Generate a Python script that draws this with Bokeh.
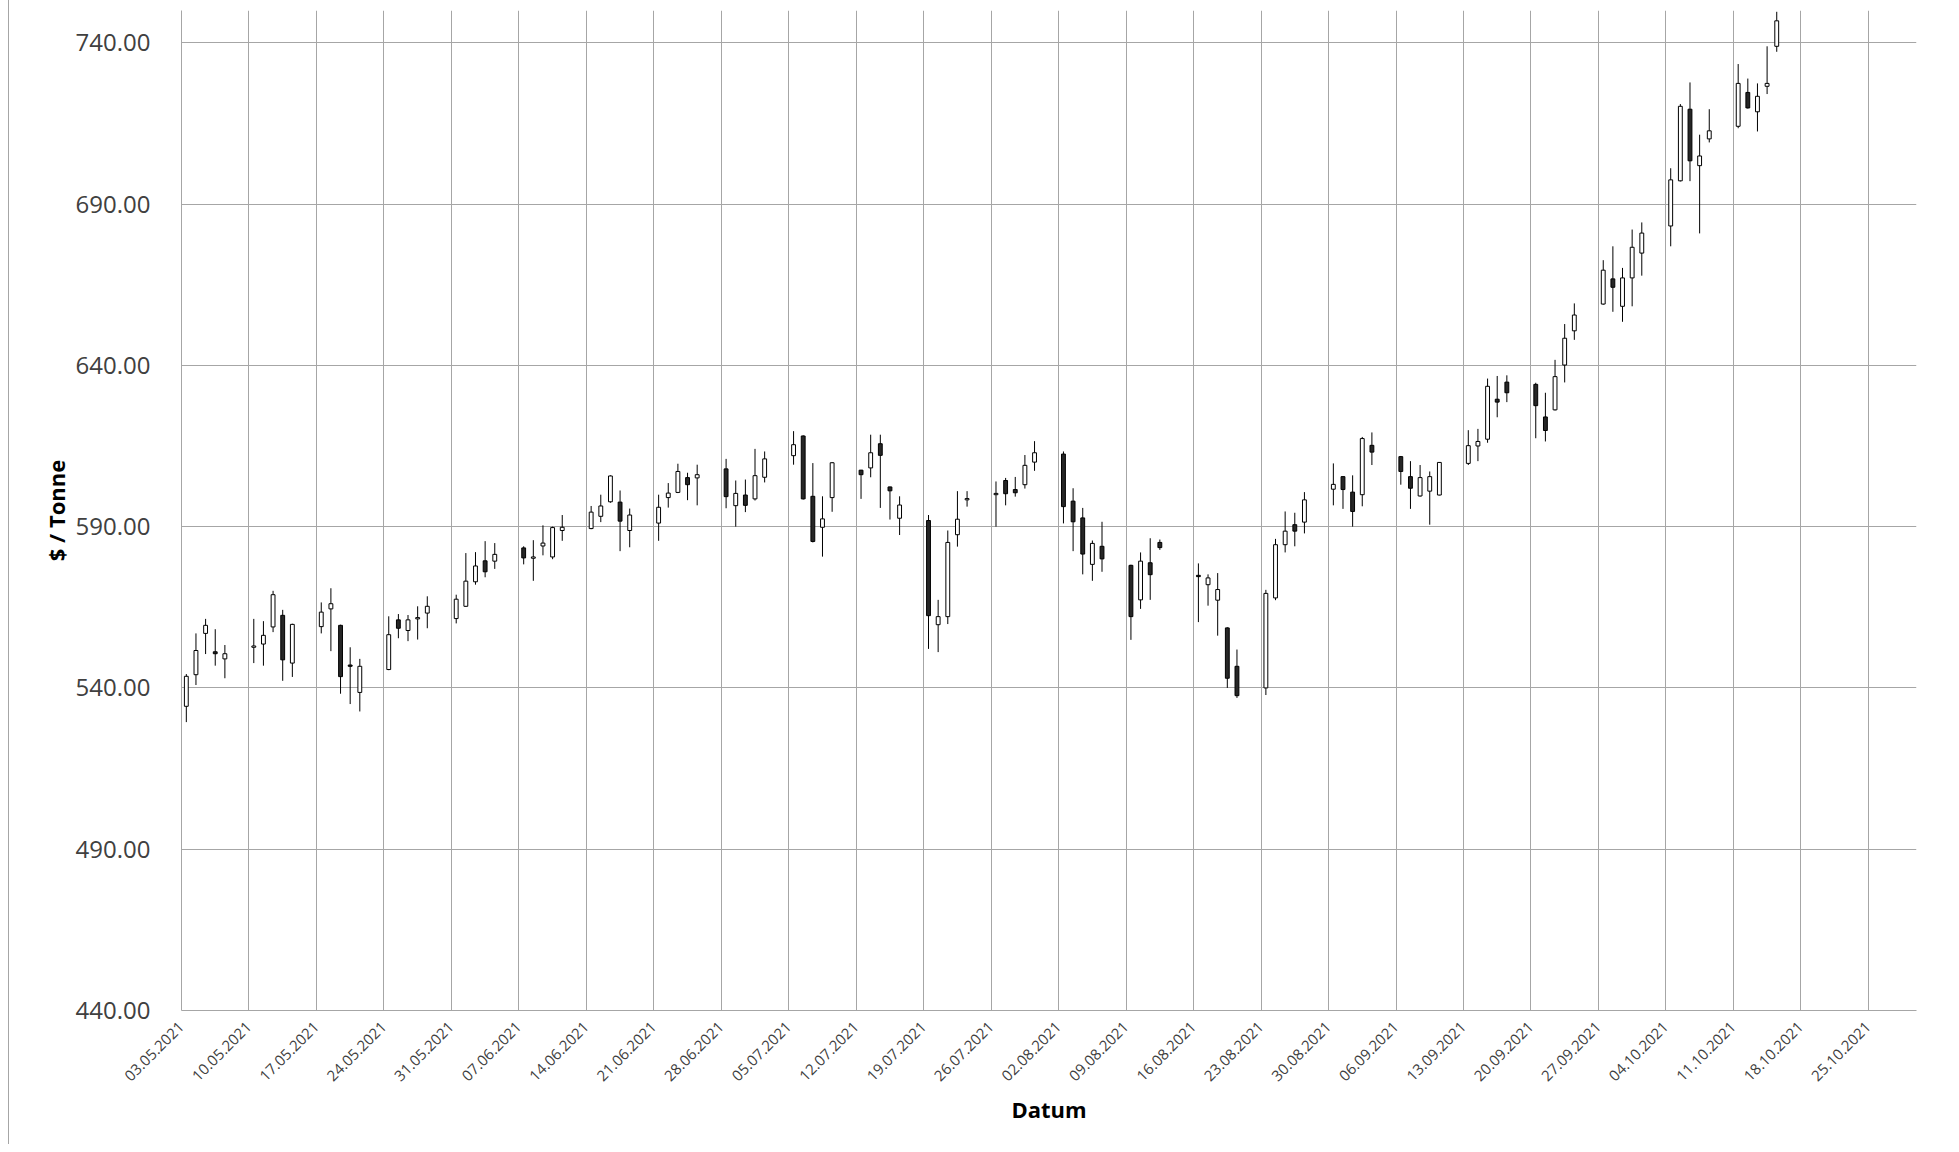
import math
from datetime import datetime
from bokeh.plotting import figure
from bokeh.models import (ColumnDataSource, Range1d, FixedTicker, DatetimeTickFormatter,
                          PrintfTickFormatter)
from bokeh.embed import file_html
from bokeh.resources import INLINE

dates = [
    "2021-05-03", "2021-05-04", "2021-05-05", "2021-05-06", "2021-05-07",
    "2021-05-10", "2021-05-11", "2021-05-12", "2021-05-13", "2021-05-14",
    "2021-05-17", "2021-05-18", "2021-05-19", "2021-05-20", "2021-05-21",
    "2021-05-24", "2021-05-25", "2021-05-26", "2021-05-27", "2021-05-28",
    "2021-05-31", "2021-06-01", "2021-06-02", "2021-06-03", "2021-06-04",
    "2021-06-07", "2021-06-08", "2021-06-09", "2021-06-10", "2021-06-11",
    "2021-06-14", "2021-06-15", "2021-06-16", "2021-06-17", "2021-06-18",
    "2021-06-21", "2021-06-22", "2021-06-23", "2021-06-24", "2021-06-25",
    "2021-06-28", "2021-06-29", "2021-06-30", "2021-07-01", "2021-07-02",
    "2021-07-05", "2021-07-06", "2021-07-07", "2021-07-08", "2021-07-09",
    "2021-07-12", "2021-07-13", "2021-07-14", "2021-07-15", "2021-07-16",
    "2021-07-19", "2021-07-20", "2021-07-21", "2021-07-22", "2021-07-23",
    "2021-07-26", "2021-07-27", "2021-07-28", "2021-07-29", "2021-07-30",
    "2021-08-02", "2021-08-03", "2021-08-04", "2021-08-05", "2021-08-06",
    "2021-08-09", "2021-08-10", "2021-08-11", "2021-08-12",
    "2021-08-16", "2021-08-17", "2021-08-18", "2021-08-19", "2021-08-20",
    "2021-08-23", "2021-08-24", "2021-08-25", "2021-08-26", "2021-08-27",
    "2021-08-30", "2021-08-31", "2021-09-01", "2021-09-02", "2021-09-03",
    "2021-09-06", "2021-09-07", "2021-09-08", "2021-09-09", "2021-09-10",
    "2021-09-13", "2021-09-14", "2021-09-15", "2021-09-16", "2021-09-17",
    "2021-09-20", "2021-09-21", "2021-09-22", "2021-09-23", "2021-09-24",
    "2021-09-27", "2021-09-28", "2021-09-29", "2021-09-30", "2021-10-01",
    "2021-10-04", "2021-10-05", "2021-10-06", "2021-10-07", "2021-10-08",
    "2021-10-11", "2021-10-12", "2021-10-13", "2021-10-14", "2021-10-15",
]

opens = [
    534.3, 544.1, 556.9, 551.2, 549.0,
    552.6, 553.6, 558.9, 562.5, 547.7,
    559.0, 564.5, 559.4, 547.1, 538.6,
    545.7, 561.1, 557.8, 561.4, 563.2,
    561.5, 565.3, 572.9, 579.4, 579.3,
    583.4, 580.2, 584.0, 580.6, 588.8,
    589.4, 593.2, 597.7, 597.6, 588.8,
    591.1, 599.0, 600.6, 605.2, 605.1,
    607.9, 596.5, 599.8, 598.6, 605.3,
    612.0, 618.1, 599.4, 589.8, 599.0,
    607.5, 608.2, 615.7, 602.3, 592.6,
    591.9, 559.6, 562.1, 587.5, 598.3,
    599.9, 604.3, 601.5, 603.0, 610.0,
    612.5, 597.9, 592.7, 578.3, 583.9,
    578.0, 567.3, 578.8, 585.1,
    574.9, 572.0, 567.2, 558.6, 546.7,
    540.0, 567.9, 584.4, 590.6, 591.4,
    601.6, 605.5, 600.7, 599.9, 615.2,
    611.7, 605.5, 599.5, 601.0, 599.8,
    609.6, 615.0, 617.1, 629.5, 634.8,
    634.1, 624.0, 626.2, 640.1, 650.7,
    659.0, 666.8, 658.3, 667.1, 674.8,
    683.2, 697.2, 719.4, 701.9, 710.2,
    714.1, 724.6, 718.6, 726.5, 738.9,
]

highs = [
    544.3, 556.9, 561.4, 558.2, 553.3,
    561.4, 560.7, 570.1, 564.2, 559.9,
    566.5, 570.9, 559.6, 552.6, 549.0,
    562.2, 562.9, 562.6, 565.3, 568.4,
    568.9, 581.8, 582.1, 585.5, 584.9,
    583.9, 585.8, 590.4, 590.0, 593.6,
    596.4, 599.9, 605.9, 601.2, 595.6,
    599.9, 603.5, 609.5, 606.7, 609.2,
    611.0, 604.3, 604.6, 614.1, 613.3,
    619.6, 618.3, 609.7, 599.4, 610.0,
    607.6, 618.5, 618.5, 602.4, 599.4,
    593.6, 567.3, 588.8, 601.0, 601.0,
    604.0, 605.1, 605.4, 612.2, 616.5,
    613.3, 601.9, 595.8, 585.7, 591.5,
    578.2, 582.0, 586.4, 586.0,
    578.6, 575.2, 575.6, 558.8, 551.9,
    570.4, 586.2, 594.7, 594.3, 600.7,
    609.6, 605.6, 605.9, 617.8, 619.2,
    611.9, 610.3, 609.1, 607.1, 610.0,
    619.9, 620.3, 635.9, 636.7, 636.9,
    634.6, 631.5, 641.7, 652.8, 659.2,
    672.6, 676.9, 670.2, 682.1, 684.3,
    701.1, 721.0, 727.7, 711.5, 719.4,
    733.4, 728.9, 727.4, 738.9, 749.6,
]

lows = [
    529.4, 540.9, 550.5, 546.9, 543.0,
    547.7, 546.9, 557.3, 542.2, 543.4,
    556.9, 551.4, 538.2, 535.0, 532.7,
    545.5, 555.4, 554.5, 555.0, 558.5,
    560.0, 565.1, 572.0, 574.3, 576.9,
    578.3, 573.2, 581.1, 579.9, 585.6,
    589.2, 591.4, 597.4, 582.4, 583.6,
    585.6, 595.9, 600.4, 598.2, 596.6,
    595.7, 590.0, 594.5, 598.1, 603.7,
    609.2, 598.4, 585.1, 580.7, 594.6,
    598.6, 605.3, 595.8, 592.2, 587.4,
    552.1, 551.1, 559.8, 583.8, 596.2,
    590.0, 596.6, 599.3, 601.8, 607.3,
    591.0, 582.4, 575.2, 573.2, 576.0,
    554.9, 564.5, 567.3, 582.8,
    560.4, 565.5, 556.2, 540.0, 536.9,
    537.8, 567.2, 582.0, 583.9, 587.9,
    596.6, 595.5, 590.0, 596.3, 609.1,
    603.0, 595.5, 599.3, 590.6, 599.7,
    609.1, 610.3, 616.0, 623.9, 628.6,
    617.4, 616.4, 626.0, 634.7, 647.9,
    658.8, 656.6, 653.5, 658.3, 667.8,
    676.9, 697.0, 697.1, 680.9, 709.1,
    713.5, 719.6, 712.5, 724.1, 737.2,
]

closes = [
    543.6, 551.6, 559.4, 550.6, 550.6,
    553.0, 556.3, 568.9, 548.7, 559.7,
    563.5, 566.1, 543.5, 546.7, 546.7,
    556.5, 558.5, 561.1, 561.8, 565.3,
    567.5, 573.1, 577.8, 576.0, 581.4,
    580.3, 580.6, 584.9, 589.7, 589.8,
    594.5, 596.4, 605.7, 591.7, 593.6,
    596.0, 600.4, 607.1, 603.0, 606.1,
    599.3, 600.3, 596.6, 605.8, 611.0,
    615.4, 598.6, 585.4, 592.4, 609.8,
    606.1, 612.9, 612.1, 601.1, 596.7,
    562.4, 562.1, 585.1, 592.3, 598.7,
    600.3, 600.2, 600.5, 609.0, 612.9,
    596.2, 591.5, 581.5, 584.8, 580.0,
    562.1, 579.3, 575.1, 583.5,
    574.5, 574.1, 570.5, 543.0, 537.6,
    569.3, 584.4, 588.6, 588.6, 598.3,
    603.1, 601.5, 594.7, 617.3, 613.1,
    607.1, 601.9, 605.2, 605.5, 609.9,
    615.1, 616.4, 633.5, 628.6, 631.5,
    627.5, 619.8, 636.5, 648.4, 655.6,
    669.5, 664.2, 667.1, 676.6, 681.0,
    697.5, 720.3, 703.4, 704.9, 712.7,
    727.4, 719.8, 723.4, 727.4, 746.8,
]

x_tick_dates = [
    "2021-05-03", "2021-05-10", "2021-05-17", "2021-05-24", "2021-05-31",
    "2021-06-07", "2021-06-14", "2021-06-21", "2021-06-28", "2021-07-05",
    "2021-07-12", "2021-07-19", "2021-07-26", "2021-08-02", "2021-08-09",
    "2021-08-16", "2021-08-23", "2021-08-30", "2021-09-06", "2021-09-13",
    "2021-09-20", "2021-09-27", "2021-10-04", "2021-10-11", "2021-10-18",
    "2021-10-25",
]
y_ticks = [440, 490, 540, 590, 640, 690, 740]

GRID = "#a6a6a6"
TXT = "#404040"
FONT = "Open Sans"
DAY_MS = 86400000.0


def to_ms(s):
    return (datetime.strptime(s, "%Y-%m-%d") - datetime(1970, 1, 1)).total_seconds() * 1000.0


xs = [to_ms(d) + DAY_MS / 2 for d in dates]
up = [c >= o for o, c in zip(opens, closes)]
src = ColumnDataSource(dict(
    x=xs,
    high=highs,
    low=lows,
    top=[max(o, c) for o, c in zip(opens, closes)],
    bottom=[min(o, c) for o, c in zip(opens, closes)],
    fill=["#ffffff" if u else "#262626" for u in up],
))

p = figure(
    x_axis_type="datetime",
    frame_width=1735, frame_height=1000,
    min_border_left=181, min_border_right=34, min_border_top=10, min_border_bottom=134,
    x_range=Range1d(to_ms("2021-05-03"), to_ms("2021-10-30")),
    y_range=Range1d(440, 750),
    output_backend="svg", toolbar_location=None,
)
p.outline_line_color = None
p.background_fill_color = "white"
p.border_fill_color = None
p.styles = {"background": "linear-gradient(to right, #ffffff 0px, #ffffff 8px, #a6a6a6 8px, "
                          "#a6a6a6 9px, #ffffff 9px, #ffffff 100%)"}

p.segment(x0="x", y0="low", x1="x", y1="high", source=src, line_color="#000000", line_width=1)
p.vbar(x="x", width=DAY_MS * 0.4, top="top", bottom="bottom", source=src,
       fill_color="fill", line_color="#000000", line_width=1)

xt = [to_ms(d) for d in x_tick_dates]
p.xaxis.ticker = FixedTicker(ticks=xt)
p.xgrid.ticker = FixedTicker(ticks=xt)
fmt = "%d.%m.%Y"
p.xaxis.formatter = DatetimeTickFormatter(
    milliseconds=fmt, seconds=fmt, minsec=fmt, minutes=fmt, hourmin=fmt, hours=fmt,
    days=fmt, months=fmt, years=fmt)
p.xaxis.major_label_orientation = math.pi / 4
p.xaxis.major_label_text_font = FONT
p.xaxis.major_label_text_font_size = "15px"
p.xaxis.major_label_text_color = TXT
p.xaxis.major_label_standoff = 8
p.xaxis.axis_label = "Datum"
p.xaxis.axis_label_text_font = FONT
p.xaxis.axis_label_text_font_size = "22px"
p.xaxis.axis_label_text_font_style = "bold"
p.xaxis.axis_label_text_color = "#000000"
p.xaxis.axis_label_standoff = 5

p.yaxis.ticker = FixedTicker(ticks=y_ticks)
p.ygrid.ticker = FixedTicker(ticks=y_ticks)
p.yaxis.formatter = PrintfTickFormatter(format="%.2f")
p.yaxis.major_label_text_font = FONT
p.yaxis.major_label_text_font_size = "24px"
p.yaxis.major_label_text_color = TXT
p.yaxis.major_label_standoff = 25
p.yaxis.axis_label = "$ / Tonne"
p.yaxis.axis_label_text_font = FONT
p.yaxis.axis_label_text_font_size = "22px"
p.yaxis.axis_label_text_font_style = "bold"
p.yaxis.axis_label_text_color = "#000000"
p.yaxis.axis_label_standoff = 2

for ax in (p.xaxis, p.yaxis):
    ax.axis_line_color = GRID
    ax.axis_line_width = 1
    ax.major_tick_line_color = None
    ax.minor_tick_line_color = None

for g in (p.xgrid, p.ygrid):
    g.grid_line_color = GRID
    g.grid_line_width = 1

open("out.html", "w").write(file_html(p, INLINE))
